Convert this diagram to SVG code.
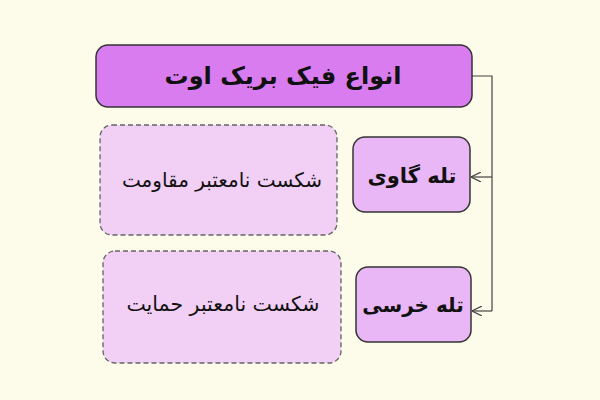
<svg xmlns="http://www.w3.org/2000/svg" width="600" height="400" viewBox="0 0 600 400">
<defs>
<style>
.t{font-family:"DejaVu Sans","Noto Sans",sans-serif;fill:#111;text-anchor:middle;direction:rtl}
.b{font-weight:bold}
.title{fill:#d97cf0;stroke:#333;stroke-width:1.5}
.node{fill:#e9b6f6;stroke:#333;stroke-width:1.5}
.leaf{fill:#f2cff5;stroke:#666;stroke-width:1.3;stroke-dasharray:5 3}
.c{fill:none;stroke:#444;stroke-width:1.2}
</style>
<marker id="ah" viewBox="0 0 10 10" refX="10" refY="5" markerWidth="10" markerHeight="10" markerUnits="userSpaceOnUse" orient="auto">
<path d="M0,0 L10,5 L0,10" fill="none" stroke="#444" stroke-width="1.2"/>
</marker>
</defs>
<rect width="600" height="400" fill="#fdfcea"/>
<g id="connectors">
<path class="c" d="M472,76 H492 V311"/>
<path class="c" d="M492,177 H471" marker-end="url(#ah)"/>
<path class="c" d="M492,311 H472" marker-end="url(#ah)"/>
</g>
<g id="title">
<rect class="title" x="96" y="45" width="376" height="62" rx="12"/>
<text class="t b" x="283" y="84" font-size="24">انواع فیک بریک اوت</text>
</g>
<g id="bull">
<rect class="node" x="353" y="137" width="117" height="75" rx="12"/>
<text class="t b" x="412" y="183" font-size="21">تله گاوی</text>
</g>
<g id="bear">
<rect class="node" x="356" y="267" width="115" height="75" rx="12"/>
<text class="t b" x="413" y="312" font-size="20">تله خرسی</text>
</g>
<g id="resistance">
<rect class="leaf" x="100" y="125" width="237" height="110" rx="12"/>
<text class="t" x="222" y="187" font-size="20">شکست نامعتبر مقاومت</text>
</g>
<g id="support">
<rect class="leaf" x="103" y="251" width="238" height="112" rx="12"/>
<text class="t" x="223" y="311" font-size="20.5">شکست نامعتبر حمایت</text>
</g>
</svg>
